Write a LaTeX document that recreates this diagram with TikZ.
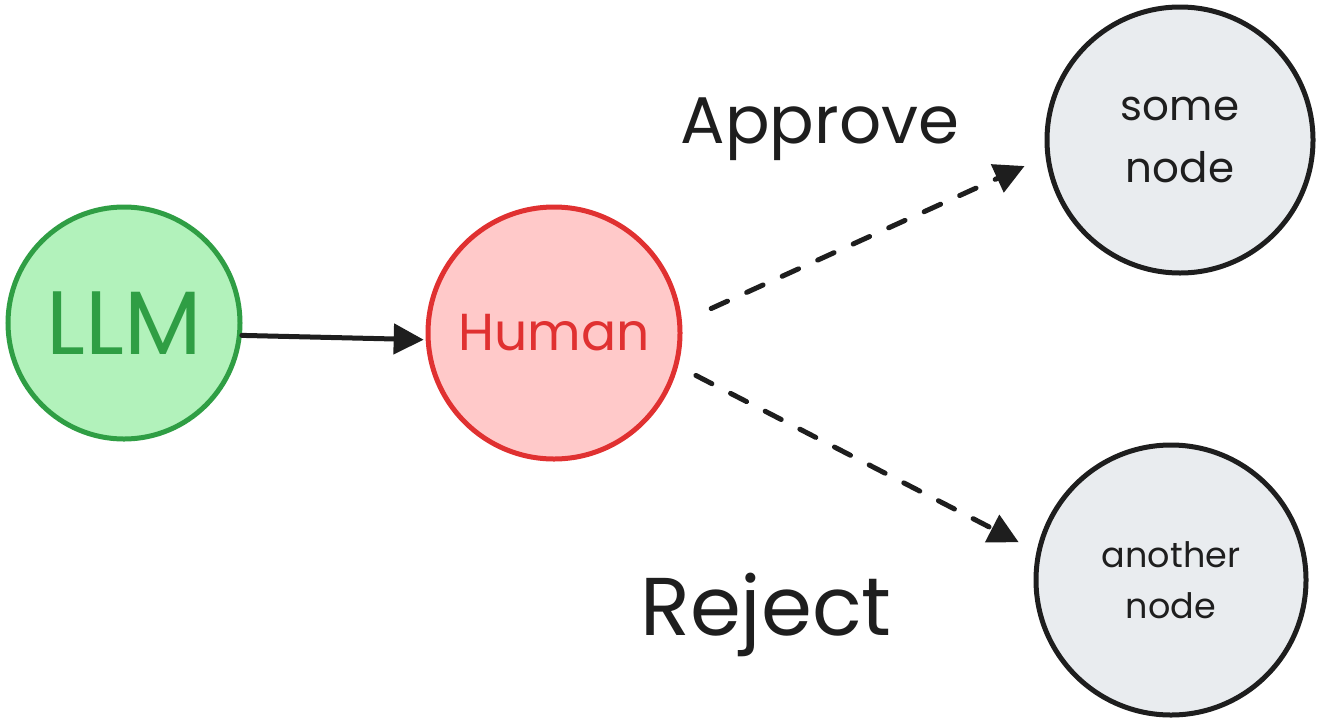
\documentclass[tikz,border=0pt]{standalone}
\usepackage{fontspec}
\setmainfont{Poppins}
\usepackage{tikz}
\usetikzlibrary{arrows.meta}
\definecolor{cllm}{HTML}{2F9E44}
\definecolor{cllmfill}{HTML}{B2F2BB}
\definecolor{chum}{HTML}{E03131}
\definecolor{chumfill}{HTML}{FFC9C9}
\definecolor{cink}{HTML}{1E1E1E}
\definecolor{cnodefill}{HTML}{E9ECEF}

\begin{document}
\begin{tikzpicture}[x=1pt,y=-1pt,
  ball/.style={circle,line width=5pt,inner sep=0pt},
  link/.style={cink,line width=5pt,line cap=round,-{Triangle[length=30pt,width=30pt]}},
  dashlink/.style={link,dash pattern=on 18pt off 21pt}]
  \useasboundingbox (0,0) rectangle (1329,726);
  \node[ball,draw=cllm,fill=cllmfill,minimum size=232pt,text=cllm,font=\fontsize{90}{100}\selectfont] (llm) at (124,323) {LLM};
  \node[ball,draw=chum,fill=chumfill,minimum size=252pt,text=chum,font=\fontsize{52}{60}\selectfont] (human) at (554,333) {Human};
  \node[ball,draw=cink,fill=cnodefill,minimum size=266pt,text=cink,align=center,font=\fontsize{42}{62}\selectfont] (some) at (1180,140) {some\\node};
  \node[ball,draw=cink,fill=cnodefill,minimum size=270pt,text=cink,align=center,font=\fontsize{35}{51}\selectfont] (another) at (1171,580) {another\\node};
  \draw[link,shorten >=2pt] (llm.-6) -- (human.183);
  \draw[dashlink,shorten <=32pt,shorten >=23pt] (human.5) -- (some.187);
  \draw[dashlink,shorten <=20pt,shorten >=20pt] (human.-15) -- (another.168);
  \node[text=cink,anchor=base,font=\fontsize{66}{70}\selectfont] (approve) at (820,143) {Approve};
  \node[text=cink,anchor=base,font=\fontsize{82}{90}\selectfont] (reject) at (766,635) {Reject};
\end{tikzpicture}
\end{document}
